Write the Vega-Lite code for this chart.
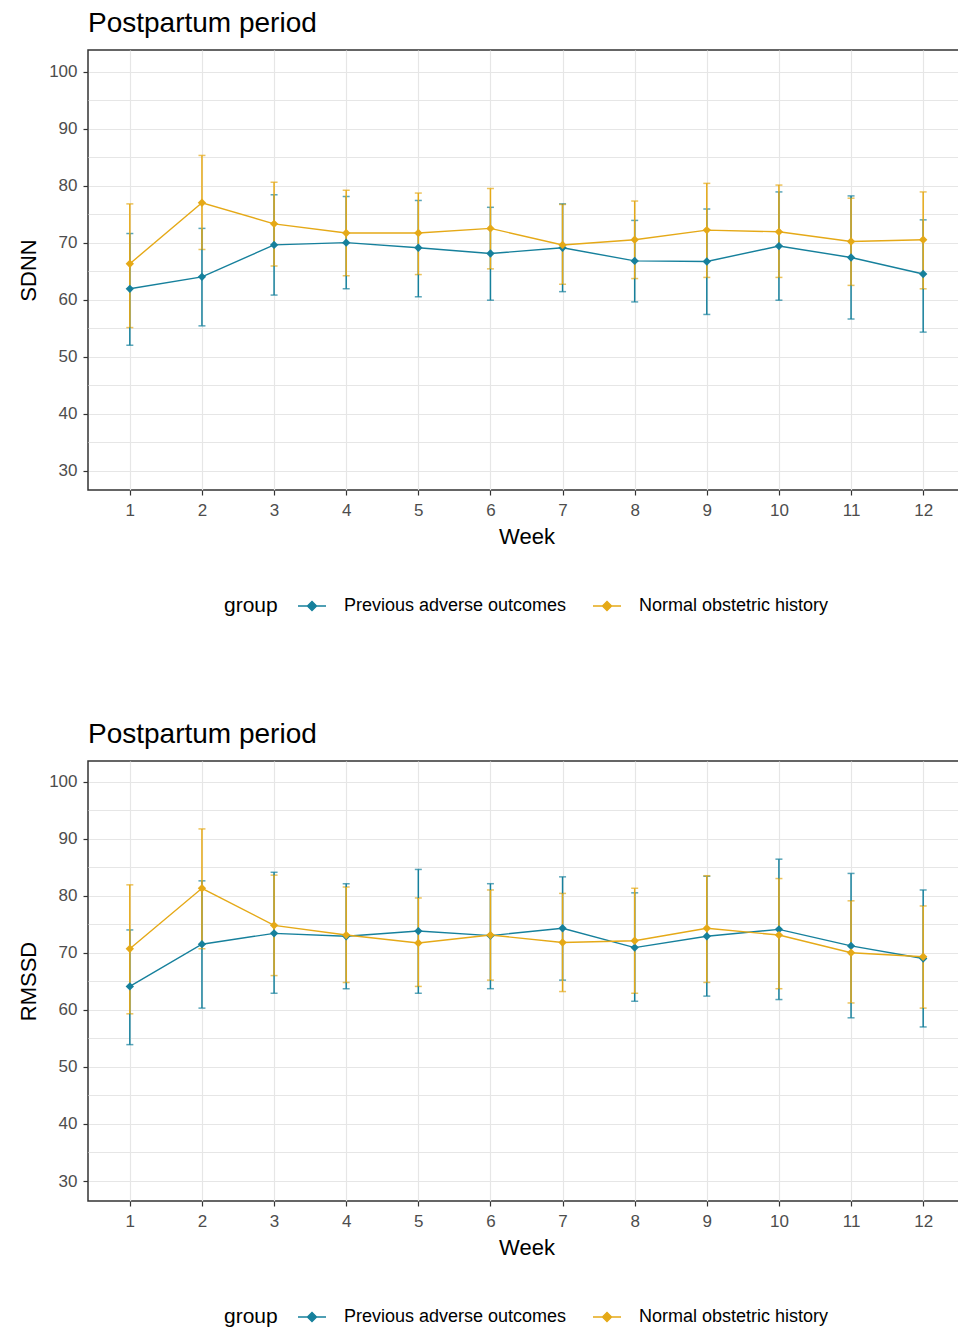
{
  "$schema": "https://vega.github.io/schema/vega-lite/v6.json",
  "background": "white",
  "padding": {"left": 16, "top": 9, "right": 0, "bottom": 0},
  "datasets": {
    "sdnn": [
      {"week": 1, "group": "Previous adverse outcomes", "mean": 61.9, "lo": 52.0, "hi": 71.6},
      {"week": 2, "group": "Previous adverse outcomes", "mean": 64.0, "lo": 55.4, "hi": 72.5},
      {"week": 3, "group": "Previous adverse outcomes", "mean": 69.6, "lo": 60.8, "hi": 78.4},
      {"week": 4, "group": "Previous adverse outcomes", "mean": 70.0, "lo": 61.9, "hi": 78.1},
      {"week": 5, "group": "Previous adverse outcomes", "mean": 69.1, "lo": 60.5, "hi": 77.4},
      {"week": 6, "group": "Previous adverse outcomes", "mean": 68.1, "lo": 59.9, "hi": 76.2},
      {"week": 7, "group": "Previous adverse outcomes", "mean": 69.1, "lo": 61.4, "hi": 76.8},
      {"week": 8, "group": "Previous adverse outcomes", "mean": 66.8, "lo": 59.6, "hi": 73.9},
      {"week": 9, "group": "Previous adverse outcomes", "mean": 66.7, "lo": 57.4, "hi": 75.9},
      {"week": 10, "group": "Previous adverse outcomes", "mean": 69.4, "lo": 59.9, "hi": 78.9},
      {"week": 11, "group": "Previous adverse outcomes", "mean": 67.4, "lo": 56.6, "hi": 78.2},
      {"week": 12, "group": "Previous adverse outcomes", "mean": 64.5, "lo": 54.3, "hi": 74.0},
      {"week": 1, "group": "Normal obstetric history", "mean": 66.3, "lo": 55.1, "hi": 76.8},
      {"week": 2, "group": "Normal obstetric history", "mean": 77.0, "lo": 68.8, "hi": 85.3},
      {"week": 3, "group": "Normal obstetric history", "mean": 73.3, "lo": 65.9, "hi": 80.6},
      {"week": 4, "group": "Normal obstetric history", "mean": 71.7, "lo": 64.2, "hi": 79.2},
      {"week": 5, "group": "Normal obstetric history", "mean": 71.7, "lo": 64.4, "hi": 78.7},
      {"week": 6, "group": "Normal obstetric history", "mean": 72.5, "lo": 65.4, "hi": 79.5},
      {"week": 7, "group": "Normal obstetric history", "mean": 69.6, "lo": 62.7, "hi": 76.7},
      {"week": 8, "group": "Normal obstetric history", "mean": 70.5, "lo": 63.7, "hi": 77.3},
      {"week": 9, "group": "Normal obstetric history", "mean": 72.2, "lo": 63.9, "hi": 80.4},
      {"week": 10, "group": "Normal obstetric history", "mean": 71.9, "lo": 63.9, "hi": 80.1},
      {"week": 11, "group": "Normal obstetric history", "mean": 70.2, "lo": 62.5, "hi": 77.8},
      {"week": 12, "group": "Normal obstetric history", "mean": 70.5, "lo": 61.9, "hi": 78.9}
    ],
    "rmssd": [
      {"week": 1, "group": "Previous adverse outcomes", "mean": 64.1, "lo": 53.9, "hi": 74.0},
      {"week": 2, "group": "Previous adverse outcomes", "mean": 71.5, "lo": 60.3, "hi": 82.6},
      {"week": 3, "group": "Previous adverse outcomes", "mean": 73.4, "lo": 62.9, "hi": 84.1},
      {"week": 4, "group": "Previous adverse outcomes", "mean": 72.9, "lo": 63.7, "hi": 82.1},
      {"week": 5, "group": "Previous adverse outcomes", "mean": 73.8, "lo": 62.9, "hi": 84.6},
      {"week": 6, "group": "Previous adverse outcomes", "mean": 73.0, "lo": 63.7, "hi": 82.1},
      {"week": 7, "group": "Previous adverse outcomes", "mean": 74.3, "lo": 65.2, "hi": 83.3},
      {"week": 8, "group": "Previous adverse outcomes", "mean": 70.9, "lo": 61.5, "hi": 80.5},
      {"week": 9, "group": "Previous adverse outcomes", "mean": 72.9, "lo": 62.4, "hi": 83.4},
      {"week": 10, "group": "Previous adverse outcomes", "mean": 74.1, "lo": 61.8, "hi": 86.4},
      {"week": 11, "group": "Previous adverse outcomes", "mean": 71.2, "lo": 58.6, "hi": 83.9},
      {"week": 12, "group": "Previous adverse outcomes", "mean": 69.0, "lo": 57.0, "hi": 81.0},
      {"week": 1, "group": "Normal obstetric history", "mean": 70.7, "lo": 59.3, "hi": 81.9},
      {"week": 2, "group": "Normal obstetric history", "mean": 81.3, "lo": 70.7, "hi": 91.7},
      {"week": 3, "group": "Normal obstetric history", "mean": 74.8, "lo": 66.0, "hi": 83.6},
      {"week": 4, "group": "Normal obstetric history", "mean": 73.1, "lo": 64.8, "hi": 81.5},
      {"week": 5, "group": "Normal obstetric history", "mean": 71.7, "lo": 64.1, "hi": 79.6},
      {"week": 6, "group": "Normal obstetric history", "mean": 73.1, "lo": 65.2, "hi": 81.0},
      {"week": 7, "group": "Normal obstetric history", "mean": 71.8, "lo": 63.2, "hi": 80.4},
      {"week": 8, "group": "Normal obstetric history", "mean": 72.1, "lo": 62.9, "hi": 81.3},
      {"week": 9, "group": "Normal obstetric history", "mean": 74.3, "lo": 64.8, "hi": 83.5},
      {"week": 10, "group": "Normal obstetric history", "mean": 73.1, "lo": 63.7, "hi": 83.0},
      {"week": 11, "group": "Normal obstetric history", "mean": 70.0, "lo": 61.2, "hi": 79.1},
      {"week": 12, "group": "Normal obstetric history", "mean": 69.3, "lo": 60.3, "hi": 78.2}
    ]
  },
  "spacing": 103,
  "resolve": {"scale": {"color": "independent"}, "legend": {"color": "independent"}},
  "vconcat": [
    {
      "width": 877,
      "height": 440,
      "data": {"name": "sdnn"},
      "title": {"text": "Postpartum period", "anchor": "start", "frame": "group", "offset": 12},
      "encoding": {
        "x": {"field": "week", "type": "quantitative", "scale": {"domain": [0.42, 12.58], "nice": false, "zero": false}, "axis": {"values": [1,2,3,4,5,6,7,8,9,10,11,12], "title": "Week", "format": "d"}},
        "color": {"field": "group", "type": "nominal", "scale": {"domain": ["Previous adverse outcomes", "Normal obstetric history"], "range": ["#16809c", "#e5a917"]}, "legend": {"title": "group", "symbolStrokeWidth": 1.5, "labelLimit": 0, "encode": {"symbols": {"update": {"size": {"value": 196}, "strokeWidth": {"value": 1.5}}}}}}
      },
      "layer": [
        {"mark": {"type": "errorbar", "ticks": {"size": 7}, "thickness": 1.5}, "encoding": {"y": {"field": "lo", "type": "quantitative", "scale": {"domain": [26.6, 103.8], "nice": false, "zero": false}, "title": "SDNN"}, "y2": {"field": "hi"}}},
        {"mark": {"type": "line", "strokeWidth": 1.4}, "encoding": {"y": {"field": "mean", "type": "quantitative", "title": "SDNN"}}},
        {"mark": {"type": "point", "shape": "diamond", "filled": true, "size": 70, "opacity": 1}, "encoding": {"y": {"field": "mean", "type": "quantitative", "title": "SDNN"}}}
      ]
    },
    {
      "width": 877,
      "height": 440,
      "data": {"name": "rmssd"},
      "title": {"text": "Postpartum period", "anchor": "start", "frame": "group", "offset": 12},
      "encoding": {
        "x": {"field": "week", "type": "quantitative", "scale": {"domain": [0.42, 12.58], "nice": false, "zero": false}, "axis": {"values": [1,2,3,4,5,6,7,8,9,10,11,12], "title": "Week", "format": "d"}},
        "color": {"field": "group", "type": "nominal", "scale": {"domain": ["Previous adverse outcomes", "Normal obstetric history"], "range": ["#16809c", "#e5a917"]}, "legend": {"title": "group", "symbolStrokeWidth": 1.5, "labelLimit": 0, "encode": {"symbols": {"update": {"size": {"value": 196}, "strokeWidth": {"value": 1.5}}}}}}
      },
      "layer": [
        {"mark": {"type": "errorbar", "ticks": {"size": 7}, "thickness": 1.5}, "encoding": {"y": {"field": "lo", "type": "quantitative", "scale": {"domain": [26.5, 103.6], "nice": false, "zero": false}, "title": "RMSSD"}, "y2": {"field": "hi"}}},
        {"mark": {"type": "line", "strokeWidth": 1.4}, "encoding": {"y": {"field": "mean", "type": "quantitative", "title": "RMSSD"}}},
        {"mark": {"type": "point", "shape": "diamond", "filled": true, "size": 70, "opacity": 1}, "encoding": {"y": {"field": "mean", "type": "quantitative", "title": "RMSSD"}}}
      ]
    }
  ],
  "config": {
    "font": "Liberation Sans",
    "view": {"stroke": "#333333", "strokeWidth": 1.5},
    "title": {"font": "Liberation Sans", "fontSize": 28, "fontWeight": "normal", "color": "#000000"},
    "axis": {
      "domain": false,
      "labelFont": "Liberation Sans",
      "labelFontSize": 17,
      "labelColor": "#4d4d4d",
      "tickColor": "#333333",
      "tickSize": 5,
      "tickWidth": 1.2,
      "titleFont": "Liberation Sans",
      "titleFontSize": 22,
      "titleFontWeight": "normal",
      "titleColor": "#000000",
      "gridColor": "#e6e6e6",
      "gridWidth": 1.2,
      "labelPadding": 4
    },
    "axisX": {"titlePadding": 8, "labelPadding": 7},
    "axisY": {
      "values": [30,35,40,45,50,55,60,65,70,75,80,85,90,95,100],
      "labelExpr": "datum.value % 10 === 0 ? datum.label : ''",
      "tickOpacity": {"condition": {"test": "datum.value % 10 !== 0", "value": 0}, "value": 1},
      "titlePadding": 8,
      "labelPadding": 6
    },
    "legend": {
      "orient": "bottom",
      "direction": "horizontal",
      "titleOrient": "left",
      "offset": 50,
      "titleFont": "Liberation Sans",
      "titleFontSize": 21,
      "titleFontWeight": "normal",
      "titleColor": "#000000",
      "titlePadding": 25,
      "labelFont": "Liberation Sans",
      "labelFontSize": 18,
      "labelColor": "#000000",
      "labelOffset": 23,
      "labelLimit": 0,
      "columnPadding": 23,
      "symbolType": "M-2,0H2M0,-0.64L0.64,0L0,0.64L-0.64,0Z",
      "symbolSize": 196,
      "symbolStrokeWidth": 1.5,
      "layout": {"bottom": {"anchor": "middle"}}
    }
  }
}
